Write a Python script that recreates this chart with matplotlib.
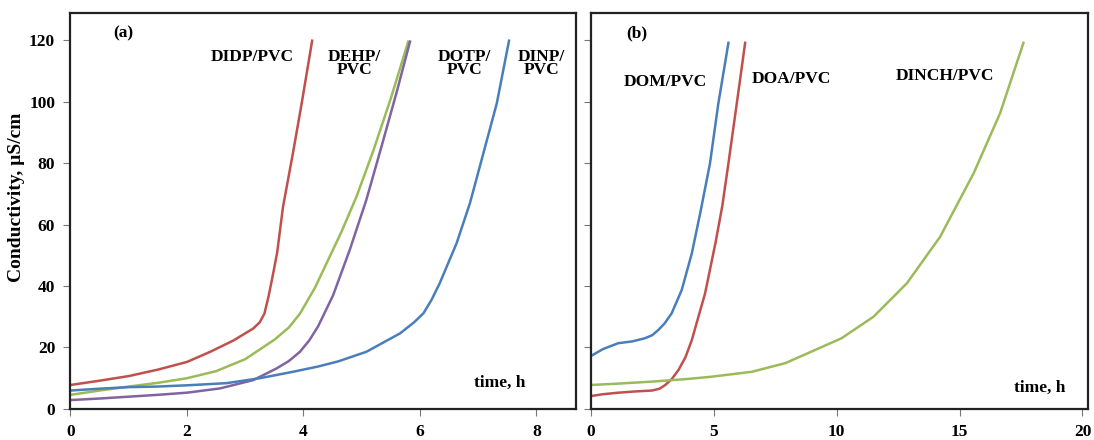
import matplotlib
matplotlib.use("Agg")
import matplotlib.pyplot as plt

plt.rcParams['font.family'] = ['Liberation Serif', 'DejaVu Serif']
plt.rcParams['font.weight'] = 'bold'

# panel (a)
didp_t = [0, 0.5, 1, 1.5, 2, 2.4, 2.8, 3.14, 3.25, 3.33, 3.4, 3.48, 3.55, 3.65, 3.82, 3.97, 4.15]
didp_v = [7.8, 9.2, 10.7, 12.8, 15.3, 18.6, 22.3, 26.2, 28.2, 31.0, 36.5, 44, 51, 65.8, 83.2, 99.4, 119.8]

dehp_t = [0, 0.5, 1, 1.5, 2, 2.5, 3, 3.5, 3.75, 3.94, 4.2, 4.4, 4.65, 4.91, 5.2, 5.5, 5.8]
dehp_v = [4.6, 6.0, 7.3, 8.5, 10, 12.3, 16.2, 22.5, 26.5, 31.0, 39.5, 47.5, 57.5, 69, 84, 101, 119.5]

dotp_t = [0, 0.5, 1, 1.5, 2, 2.57, 3.14, 3.54, 3.75, 3.94, 4.1, 4.25, 4.51, 4.8, 5.08, 5.35, 5.6, 5.83]
dotp_v = [2.9, 3.4, 4.0, 4.6, 5.3, 6.7, 9.4, 13.2, 15.6, 18.6, 22.3, 26.8, 37.0, 52, 68, 86, 103, 119.5]

dinp_t = [0, 0.5, 1, 1.5, 2, 2.68, 3.25, 3.82, 4.25, 4.6, 5.08, 5.66, 5.9, 6.06, 6.2, 6.34, 6.63,
          6.86, 7.09, 7.32, 7.53]
dinp_v = [6.0, 6.6, 7.1, 7.3, 7.7, 8.4, 10, 12.1, 13.8, 15.5, 18.6, 24.6, 28.2, 31.1, 35.5, 40.9,
          53.9, 67, 83.2, 99.4, 119.8]

# panel (b)
dom_t = [0, 0.5, 1.12, 1.7, 2.2, 2.5, 2.75, 3.0, 3.29, 3.7, 4.11, 4.45, 4.85, 5.19, 5.6]
dom_v = [17.2, 19.5, 21.4, 22.0, 23.0, 24.0, 25.7, 27.8, 31.1, 38.7, 50.6, 63.6, 79.9, 99.4, 119.1]

doa_t = [0, 0.5, 1.12, 1.8, 2.49, 2.8, 3.03, 3.3, 3.57, 3.85, 4.11, 4.65, 5.07, 5.35, 5.6, 5.94, 6.28]
doa_v = [4.2, 4.8, 5.3, 5.7, 6.0, 6.6, 7.8, 9.8, 12.7, 16.8, 22.4, 37.6, 53.9, 66, 79.9, 99.4, 119.1]

dinch_t = [0, 1, 2.49, 4, 4.92, 6.55, 7.91, 9.27, 10.2, 11.5, 12.86, 14.21, 15.57, 16.65, 17.6]
dinch_v = [7.8, 8.2, 8.9, 9.8, 10.5, 12.1, 14.9, 19.7, 23, 30, 40.9, 56, 76.6, 96.2, 119.1]

red = '#C0504D'
green = '#9BBB59'
purple = '#8064A2'
blue = '#4A7EBB'
lw = 1.8

fig = plt.figure(figsize=(10.94, 4.40), dpi=100)
ax1 = fig.add_axes([0.0644, 0.0705, 0.4621, 0.9006])
ax2 = fig.add_axes([0.540, 0.0705, 0.4546, 0.9006])

ax1.plot(didp_t, didp_v, color=red, lw=lw)
ax1.plot(dehp_t, dehp_v, color=green, lw=lw)
ax1.plot(dotp_t, dotp_v, color=purple, lw=lw)
ax1.plot(dinp_t, dinp_v, color=blue, lw=lw)

ax2.plot(dom_t, dom_v, color=blue, lw=lw)
ax2.plot(doa_t, doa_v, color=red, lw=lw)
ax2.plot(dinch_t, dinch_v, color=green, lw=lw)

ax1.set_xlim(0, 8.68)
ax2.set_xlim(0, 20.23)
for ax in (ax1, ax2):
    ax.set_ylim(0, 128.9)
    ax.set_yticks([0, 20, 40, 60, 80, 100, 120])
    for s in ax.spines.values():
        s.set_linewidth(1.6)
        s.set_color('#222222')
    ax.tick_params(direction='out', length=5, width=0.8, color='#777777',
                   labelsize=12.5, pad=6)
    ax.tick_params(axis='y', pad=6)
    for lab in ax.get_xticklabels() + ax.get_yticklabels():
        lab.set_fontweight('bold')

ax1.set_xticks([0, 2, 4, 6, 8])
ax2.set_xticks([0, 5, 10, 15, 20])
ax2.tick_params(axis='y', labelleft=False)

ax1.set_ylabel('Conductivity, µS/cm', fontsize=14, fontweight='bold')
ax1.yaxis.set_label_coords(-0.09, 0.535)

fs = 12.5
ax1.text(0.90, 122.3, '(a)', fontsize=fs, ha='center', va='center')
ax1.text(3.12, 114.5, 'DIDP/PVC', fontsize=fs, ha='center', va='center')
ax1.text(4.88, 112.5, 'DEHP/\nPVC', fontsize=fs, ha='center', va='center', linespacing=0.75)
ax1.text(6.77, 112.5, 'DOTP/\nPVC', fontsize=fs, ha='center', va='center', linespacing=0.75)
ax1.text(8.09, 112.5, 'DINP/\nPVC', fontsize=fs, ha='center', va='center', linespacing=0.75)
ax1.text(7.37, 8.5, 'time, h', fontsize=fs, ha='center', va='center')

ax2.text(1.87, 122.3, '(b)', fontsize=fs, ha='center', va='center')
ax2.text(3.02, 106.3, 'DOM/PVC', fontsize=fs, ha='center', va='center')
ax2.text(8.18, 107.3, 'DOA/PVC', fontsize=fs, ha='center', va='center')
ax2.text(14.41, 108.3, 'DINCH/PVC', fontsize=fs, ha='center', va='center')
ax2.text(18.28, 6.8, 'time, h', fontsize=fs, ha='center', va='center')

fig.savefig('out.png', dpi=100)
